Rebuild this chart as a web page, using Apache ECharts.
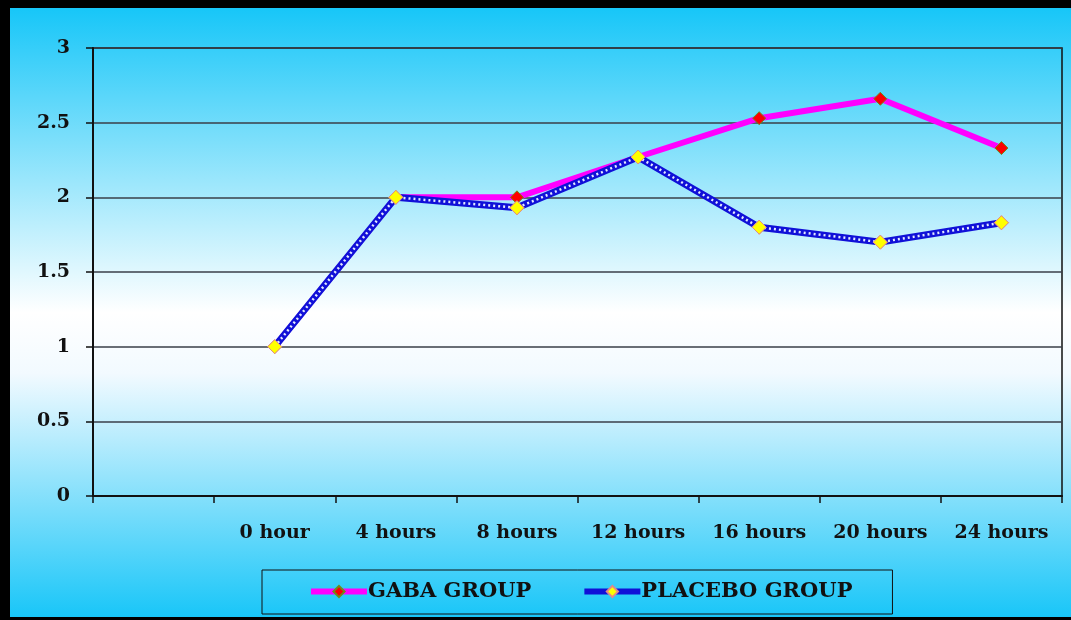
<!DOCTYPE html>
<html>
<head>
<meta charset="utf-8">
<script src="https://cdn.jsdelivr.net/npm/echarts@6/dist/echarts.min.js"></script>
<style>
  html, body { margin: 0; padding: 0; width: 1071px; height: 620px; background: #000; overflow: hidden; }
  #chart { position: absolute; left: 10px; top: 8px; width: 1061px; height: 609px; }
</style>
</head>
<body>
<div id="chart"></div>
<script>
// categories (first slot is empty, as in the original)
const categories = ['', '0 hour', '4 hours', '8 hours', '12 hours', '16 hours', '20 hours', '24 hours'];
const gabaValues = [null, 1.0, 2.0, 2.0, 2.27, 2.53, 2.66, 2.33];
const placeboValues = [null, 1.0, 2.0, 1.93, 2.27, 1.8, 1.7, 1.83];
const yTicks = { min: 0, max: 3, interval: 0.5 };

const labelFont = {
    fontFamily: '"DejaVu Serif", "Liberation Serif", serif',
    fontWeight: 'bold',
    fontSize: 19,
    color: '#111'
};

let myChart = echarts.init(document.getElementById('chart'));

let option = {
    animation: false,
    backgroundColor: new echarts.graphic.LinearGradient(0, 0, 0, 1, [
        { offset: 0, color: '#17c6f8' },
        { offset: 0.5, color: '#ffffff' },
        { offset: 0.6, color: '#f2faff' },
        { offset: 1, color: '#19c6f8' }
    ]),
    grid: {
        show: true,
        left: 83,
        right: 9,
        top: 40,
        bottom: 121,
        borderColor: '#111',
        borderWidth: 1.5,
        backgroundColor: 'transparent'
    },
    legend: {
        data: ['GABA GROUP', 'PLACEBO GROUP'],
        left: 252,
        top: 562,
        padding: [11, 40, 12, 46],
        itemGap: 50,
        itemWidth: 56,
        itemHeight: 14,
        borderColor: '#111',
        borderWidth: 1,
        lineStyle: { width: 6 },
        textStyle: Object.assign({}, labelFont, { fontSize: 21, padding: [0, 0, 0, -4] })
    },
    xAxis: {
        type: 'category',
        data: categories,
        boundaryGap: true,
        axisLine: { lineStyle: { color: '#111', width: 2 } },
        axisTick: { show: true, length: 7, lineStyle: { color: '#111', width: 1.5 } },
        axisLabel: Object.assign({ margin: 28, interval: 0 }, labelFont),
        splitLine: { show: false }
    },
    yAxis: {
        type: 'value',
        min: yTicks.min,
        max: yTicks.max,
        interval: yTicks.interval,
        axisLine: { show: true, lineStyle: { color: '#111', width: 2 } },
        axisTick: { show: true, length: 7, lineStyle: { color: '#111', width: 1.5 } },
        axisLabel: Object.assign({ margin: 23 }, labelFont),
        splitLine: { show: true, lineStyle: { color: '#3a3f48', width: 1.5 } }
    },
    series: [
        {
            name: 'GABA GROUP',
            type: 'line',
            data: gabaValues,
            z: 2,
            symbol: 'diamond',
            symbolSize: 13,
            lineStyle: { color: '#ff00ff', width: 6 },
            itemStyle: { color: '#ff0000', borderColor: '#6f8a1a', borderWidth: 1 }
        },
        {
            name: 'PLACEBO GROUP',
            type: 'line',
            data: placeboValues,
            z: 3,
            symbol: 'diamond',
            symbolSize: 14,
            lineStyle: { color: '#1010d8', width: 7 },
            itemStyle: { color: '#ffff00', borderColor: '#e08a8a', borderWidth: 1 }
        },
        {
            // white dots inside the placebo line
            name: 'placebo dots',
            type: 'line',
            data: placeboValues,
            z: 4,
            silent: true,
            symbol: 'none',
            lineStyle: { color: '#e4eaff', width: 2.5, type: [2, 3] }
        },
        {
            name: 'placebo markers',
            type: 'line',
            data: placeboValues,
            z: 5,
            silent: true,
            symbol: 'diamond',
            symbolSize: 14,
            lineStyle: { width: 0, opacity: 0 },
            itemStyle: { color: '#ffff00', borderColor: '#e08a8a', borderWidth: 1 }
        }
    ]
};

myChart.setOption(option);
</script>
</body>
</html>
